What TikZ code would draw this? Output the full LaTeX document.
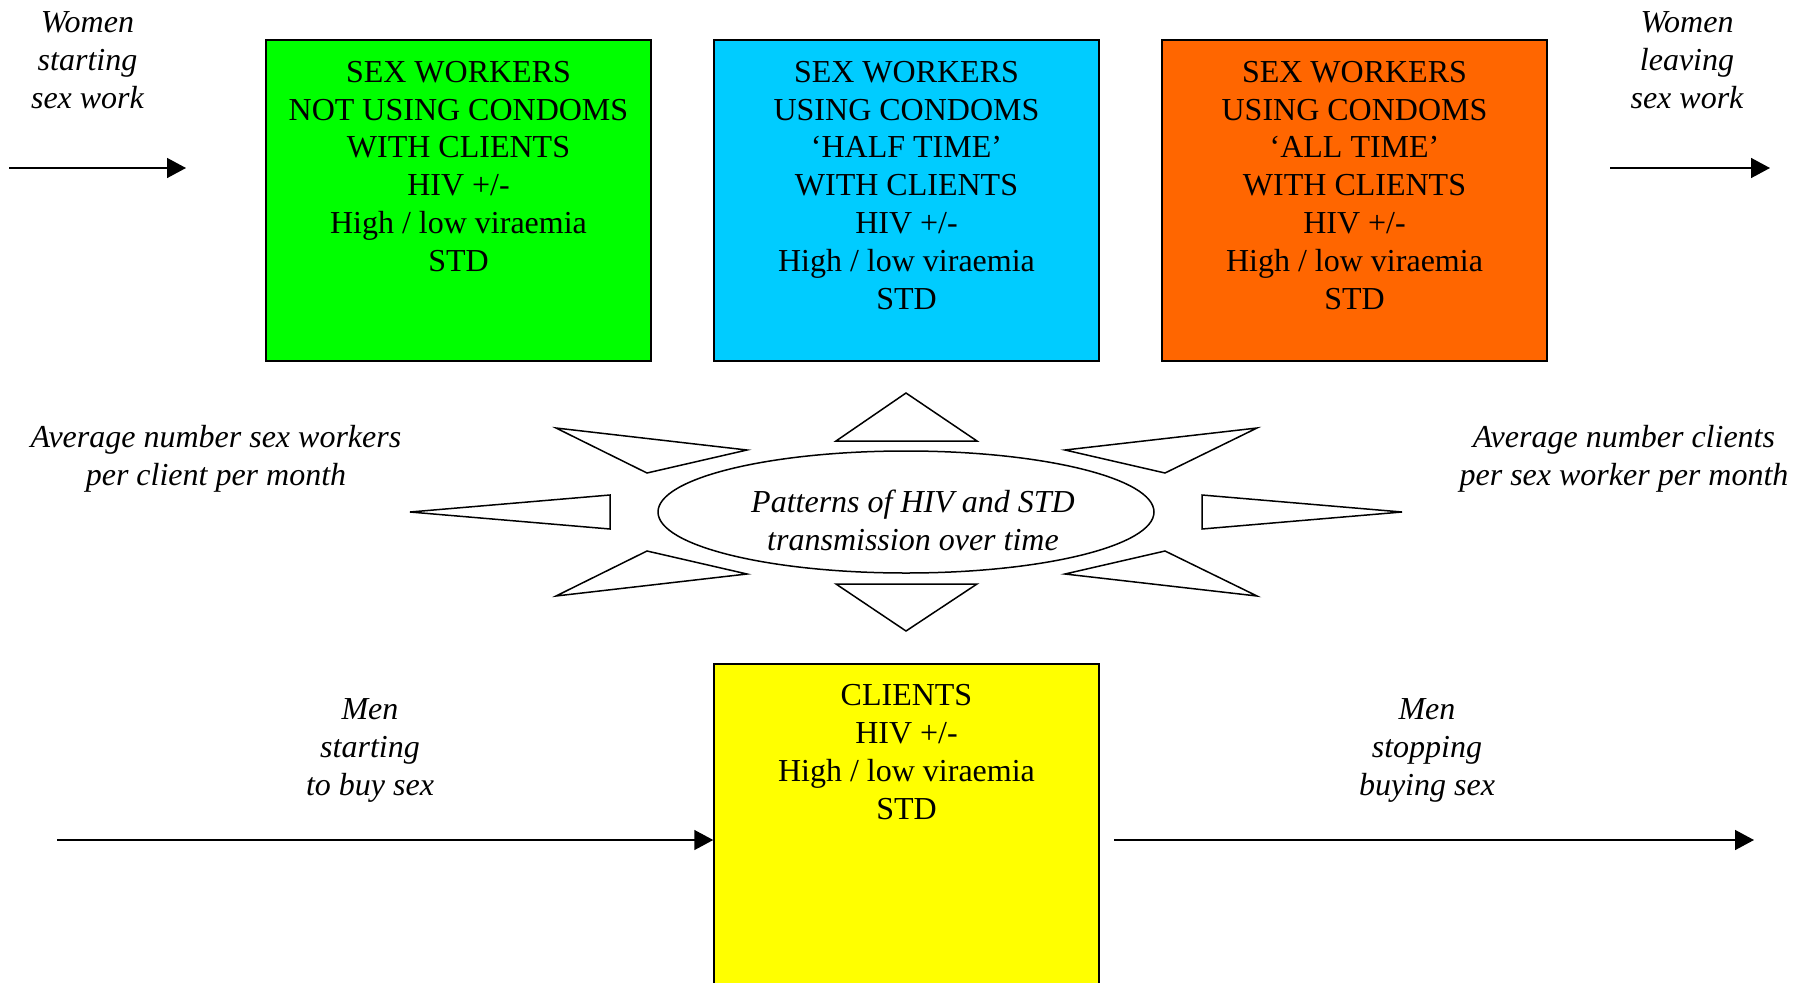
\documentclass[tikz,border=0pt]{standalone}
\usepackage{fontspec}
\setmainfont{Liberation Serif}
\usetikzlibrary{arrows.meta,shapes.geometric,calc}
\definecolor{cgreen}{RGB}{0,255,0}
\definecolor{cblue}{RGB}{0,204,255}
\definecolor{corange}{RGB}{255,102,0}
\definecolor{cyellow}{RGB}{255,255,0}
\begin{document}
\begin{tikzpicture}[x=1pt,y=-1pt,
  box/.style={draw, line width=1.5pt, minimum width=385pt, minimum height=321pt, inner sep=0pt},
  boxtxt/.style={anchor=north, inner sep=0pt, align=center, font=\fontsize{32}{37.8}\selectfont},
  itxt/.style={anchor=north, inner sep=0pt, align=center, font=\fontsize{32}{38}\selectfont\itshape},
  arr/.style={line width=1.5pt, -{Triangle[length=19pt,width=20pt]}},
  ray/.style={draw, line width=1.5pt, line join=miter}
]
\useasboundingbox (0,0) rectangle (1800,983);
\clip (0,0) rectangle (1800,983);
\fill[white] (0,0) rectangle (1800,983);

% boxes
\node[box, fill=cgreen] (g) at (458.5,200.5) {};
\node[box, fill=cblue] (b) at (906.5,200.5) {};
\node[box, fill=corange] (o) at (1354.5,200.5) {};
\node[box, fill=cyellow, minimum height=360pt] (y) at (906.5,844) {};

\node[boxtxt] (gt) at (458.5,61) {SEX WORKERS\\NOT USING CONDOMS\\WITH CLIENTS\\HIV +/-\\High / low viraemia\\STD};
\node[boxtxt] (bt) at (906.5,61) {SEX WORKERS\\USING CONDOMS\\‘HALF TIME’\\WITH CLIENTS\\HIV +/-\\High / low viraemia\\STD};
\node[boxtxt] (ot) at (1354.5,61) {SEX WORKERS\\USING CONDOMS\\‘ALL TIME’\\WITH CLIENTS\\HIV +/-\\High / low viraemia\\STD};
\node[boxtxt] (yt) at (906.5,684.5) {CLIENTS\\HIV +/-\\High / low viraemia\\STD};

% italic labels
\node[itxt] (ws) at (87.5,11) {Women\\starting\\sex work};
\node[itxt] (wl) at (1687,11) {Women\\leaving\\sex work};
\node[itxt] (avl) at (216,425) {Average number sex workers\\per client per month};
\node[itxt] (avr) at (1624,425) {Average number clients\\per sex worker per month};
\node[itxt] (ms) at (370,698) {Men\\starting\\to buy sex};
\node[itxt] (mb) at (1427,698) {Men\\stopping\\buying sex};

% ellipse
\node[draw, ellipse, line width=1.5pt, minimum width=496pt, minimum height=122pt, inner sep=0pt] (ell) at (906,512) {};
\node[itxt] (et) at (913,489.5) {Patterns of HIV and STD\\transmission over time};

% star rays
\draw[ray] (906,393) -- (977,441) -- (836,441) -- cycle;
\draw[ray] (906,631) -- (977,584) -- (836,584) -- cycle;
\draw[ray] (410,512) -- (610,495) -- (610,529) -- cycle;
\draw[ray] (1402,512) -- (1202,495) -- (1202,529) -- cycle;
\draw[ray] (556,428) -- (747,450) -- (647,473) -- cycle;
\draw[ray] (556,596) -- (747,574) -- (647,551) -- cycle;
\draw[ray] (1257,428) -- (1065,450) -- (1165,473) -- cycle;
\draw[ray] (1257,596) -- (1065,574) -- (1165,551) -- cycle;

% arrows
\coordinate (tl1) at (9,168);
\coordinate (tl2) at (186,168);
\coordinate (tr1) at (1610,168);
\coordinate (tr2) at (1770,168);
\coordinate (bl1) at (57,840);
\coordinate (br1) at (1114,840);
\coordinate (br2) at (1754,840);
\draw[arr] (tl1) -- (tl2);
\draw[arr] (tr1) -- (tr2);
\draw[arr] (bl1) -- (bl1 -| y.west);
\draw[arr] (br1) -- (br2);
\end{tikzpicture}
\end{document}
